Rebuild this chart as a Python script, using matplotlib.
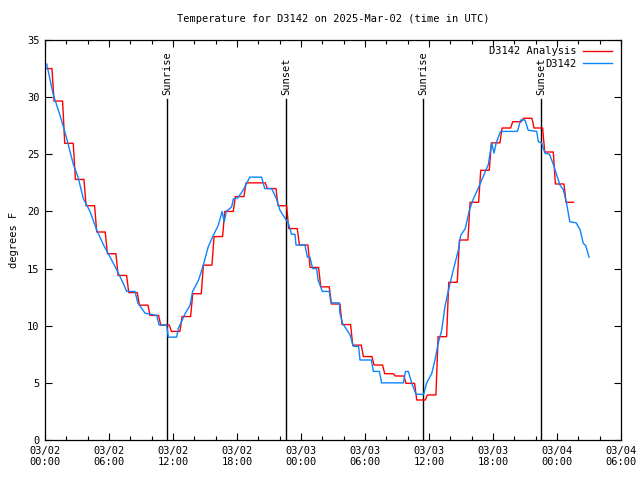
import numpy as np
import matplotlib
matplotlib.use("Agg")
import matplotlib.pyplot as plt
from matplotlib.ticker import MultipleLocator

plt.rcParams['font.family'] = ['DejaVu Sans Mono']
plt.rcParams['font.size'] = 7.5

title = "Temperature for D3142 on 2025-Mar-02 (time in UTC)"
ylabel = "degrees F"

# hourly analysis values, hour 0 = 03/02 00:00 UTC
analysis = [32.5, 29.66, 25.96, 22.8, 20.5, 18.2, 16.3, 14.4, 12.9, 11.8,
            10.9, 10.06, 9.5, 10.8, 12.8, 15.3, 17.8, 20.0, 21.3, 22.5,
            22.5, 22.0, 20.5, 18.5, 17.06, 15.1, 13.4, 11.9, 10.1, 8.3,
            7.3, 6.56, 5.8, 5.6, 4.96, 3.5, 3.94, 9.04, 13.8, 17.5,
            20.8, 23.6, 26.0, 27.3, 27.85, 28.15, 27.3, 25.2, 22.4, 20.8]

# observations (hours since 03/02 00:00, degrees F)
obs_t = [0.16, 0.78, 1.41, 2.03, 2.66, 3.1, 3.6, 4.22, 4.84, 5.47, 6.1, 6.72,
         7.34, 7.66, 8.44, 8.7, 9.375, 10.47, 10.7, 11.4, 11.56, 12.34, 12.5,
         12.8, 13.1, 13.6, 13.84, 14.4, 14.84, 15.3, 15.78, 16.25, 16.6, 16.8,
         17.0, 17.5, 17.66, 18.1, 18.6, 19.2, 20.3, 20.6, 21.25, 21.7, 22.03,
         22.5, 22.8, 23.12, 23.44, 23.53, 24.37, 24.6, 24.84, 25.09, 25.47,
         25.6, 26.0, 26.65, 26.81, 27.6, 27.65, 27.9, 28.6, 28.9, 29.4, 29.53,
         30.6, 30.78, 31.35, 31.56, 33.6, 33.8, 34.06, 34.38, 34.78, 35.5,
         35.78, 36.25, 36.56, 36.87, 37.19, 37.5, 37.8, 38.28, 38.75, 38.97,
         39.4, 39.78, 40.16, 40.6, 41.1, 41.56, 41.875, 42.1, 42.3, 42.7,
         44.28, 44.6, 45.0, 45.3, 46.1, 46.25, 46.56, 46.87, 47.3, 47.66,
         47.97, 48.28, 48.6, 48.9, 49.2, 49.8, 50.16, 50.47, 50.7, 51.0]
obs_v = [32.9, 30.2, 28.4, 26.4, 24.1, 23.0, 21.1, 20.0, 18.4, 17.1, 16.0, 14.9,
         13.7, 13.0, 13.0, 12.0, 11.1, 10.9, 10.06, 10.06, 9.0, 9.0, 9.77,
         10.35, 11.0, 11.8, 13.0, 14.0, 15.3, 16.9, 17.9, 18.8, 20.0, 19.1,
         20.0, 20.4, 21.1, 21.2, 21.9, 23.0, 23.0, 22.0, 22.0, 21.1, 20.1,
         19.4, 19.0, 18.0, 18.0, 17.06, 17.06, 16.0, 16.0, 15.0, 15.0,
         14.0, 13.0, 13.0, 12.0, 12.0, 11.1, 10.2, 9.2, 8.2, 8.2, 7.0,
         7.0, 6.0, 6.0, 5.0, 5.0, 6.0, 6.0, 5.0, 4.0, 4.0,
         5.0, 5.8, 7.0, 8.5, 9.6, 11.7, 13.0, 14.9, 16.6, 17.9,
         18.5, 20.1, 21.1, 22.0, 23.1, 24.1, 26.0, 25.1, 26.0, 27.0,
         27.0, 28.0, 28.0, 27.1, 27.0, 26.1, 26.0, 25.1, 25.0, 24.1,
         23.2, 22.3, 21.9, 20.7, 19.1, 19.0, 18.4, 17.2, 17.0, 16.0]

sun_t = [11.44, 22.6, 35.47, 46.5]
sun_lbl = ["Sunrise", "Sunset", "Sunrise", "Sunset"]

xtick_t = list(range(0, 55, 6))
xtick_lbl = ["03/02\n00:00", "03/02\n06:00", "03/02\n12:00", "03/02\n18:00",
             "03/03\n00:00", "03/03\n06:00", "03/03\n12:00", "03/03\n18:00",
             "03/04\n00:00", "03/04\n06:00"]

# analysis is drawn as hourly steps, each value held around its hour
hrs = np.arange(len(analysis))
a_x = np.column_stack([hrs - 0.15, hrs + 0.65]).ravel()
a_x[0] = 0.15
a_x[-1] = hrs[-1] + 0.55
a_y = np.repeat(analysis, 2)

fig = plt.figure(figsize=(6.4, 4.8), dpi=100)
ax = fig.add_axes([45/640, 40/480, 576/640, 400/480])

for t, lbl in zip(sun_t, sun_lbl):
    ax.plot([t, t], [0, 29.8], color='black', lw=1.0, zorder=1)
    ax.text(t, 30.2, lbl, rotation=90, ha='center', va='bottom')

ax.plot(a_x, a_y, color='#ff0000', lw=1.0, label="D3142 Analysis", zorder=2)
ax.plot(obs_t, obs_v, color='#0a84ff', lw=1.0, label="D3142", zorder=3)

ax.set_xlim(0, 54)
ax.set_ylim(0, 35)
ax.set_xticks(xtick_t)
ax.set_xticklabels(xtick_lbl)
ax.xaxis.set_minor_locator(MultipleLocator(2))
ax.yaxis.set_major_locator(MultipleLocator(5))
ax.tick_params(which='both', direction='in', top=True, right=True, width=0.8)
ax.tick_params(which='major', length=5, pad=4)
ax.tick_params(which='minor', length=3)
for s in ax.spines.values():
    s.set_linewidth(0.9)

ax.set_title(title, fontsize=7.5, pad=13)
ax.set_ylabel(ylabel, labelpad=6)

ax.legend(loc='upper right', bbox_to_anchor=(0.995, 1.0), frameon=False,
          markerfirst=False, handlelength=2.8, handletextpad=0.55,
          labelspacing=0.25, borderaxespad=0.2)

fig.savefig("out.png", dpi=100)
